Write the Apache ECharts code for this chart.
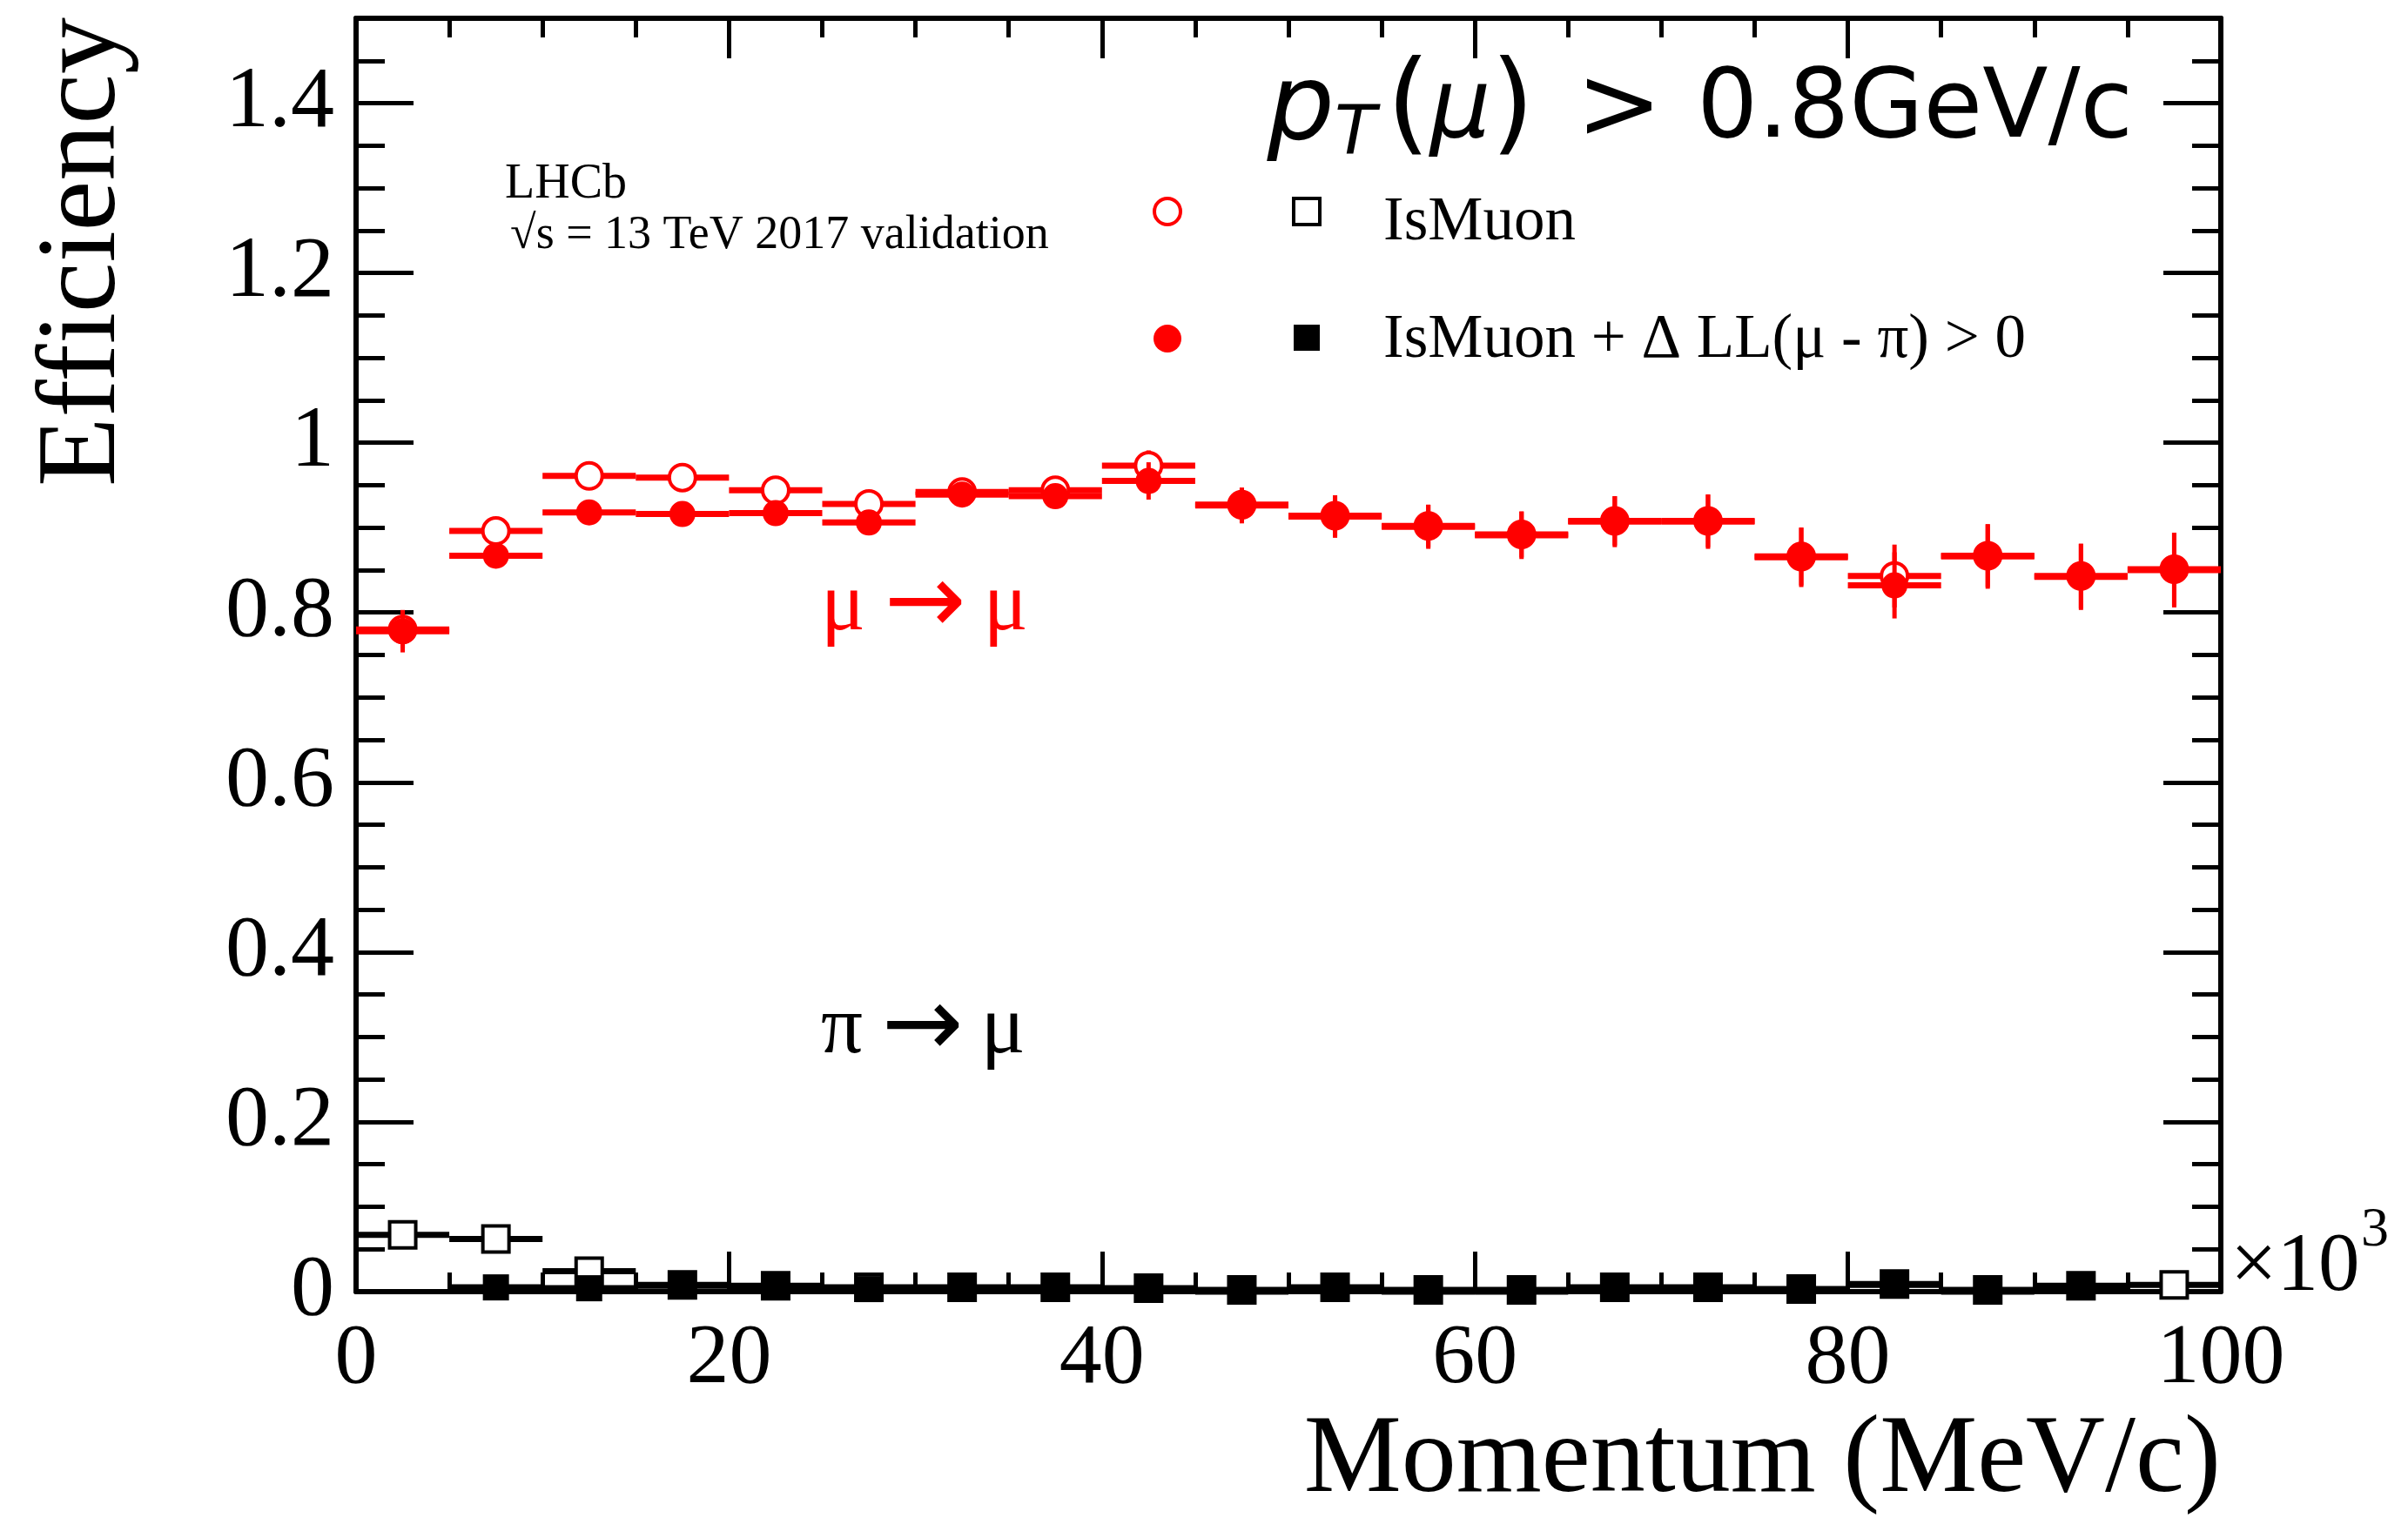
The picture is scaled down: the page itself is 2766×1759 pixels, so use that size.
<!DOCTYPE html>
<html>
<head>
<meta charset="utf-8">
<title>Muon ID efficiency vs momentum</title>
<script src="https://cdn.jsdelivr.net/npm/echarts@6/dist/echarts.min.js"></script>
<style>
  html, body { margin: 0; padding: 0; background: #fff; }
  #chart { width: 2766px; height: 1759px; }
</style>
</head>
<body>
<div id="chart"></div>
<script>
// momentum bins (x 10^3 MeV/c), 5 wide
const binCenters = [2.5, 7.5, 12.5, 17.5, 22.5, 27.5, 32.5, 37.5, 42.5, 47.5, 52.5, 57.5, 62.5, 67.5, 72.5, 77.5, 82.5, 87.5, 92.5, 97.5];
const binHalfWidth = 2.5;

// mu -> mu
const muIsMuon    = [0.780, 0.896, 0.961, 0.959, 0.944, 0.928, 0.942, 0.944, 0.973, 0.927, 0.914, 0.902, 0.892, 0.908, 0.908, 0.866, 0.843, 0.867, 0.843, 0.851];
const muIsMuonErr = [0.022, 0.010, 0.008, 0.008, 0.008, 0.009, 0.010, 0.011, 0.018, 0.020, 0.024, 0.025, 0.027, 0.029, 0.031, 0.034, 0.037, 0.037, 0.038, 0.043];
const muDLL       = [0.778, 0.867, 0.918, 0.916, 0.917, 0.906, 0.939, 0.937, 0.955, 0.926, 0.913, 0.901, 0.891, 0.907, 0.907, 0.865, 0.832, 0.866, 0.842, 0.850];
const muDLLErr    = [0.025, 0.012, 0.010, 0.010, 0.010, 0.010, 0.012, 0.013, 0.022, 0.021, 0.025, 0.026, 0.028, 0.030, 0.032, 0.035, 0.039, 0.038, 0.039, 0.044];

// pi -> mu
const piIsMuon    = [0.067, 0.062, 0.024, 0.008, 0.007, 0.005, 0.005, 0.005, 0.004, 0.002, 0.005, 0.002, 0.002, 0.005, 0.005, 0.003, 0.009, 0.002, 0.007, 0.008];
const piIsMuonErr = [0.005, 0.005, 0.004, 0.002, 0.002, 0.002, 0.002, 0.002, 0.002, 0.002, 0.002, 0.002, 0.002, 0.002, 0.002, 0.002, 0.003, 0.002, 0.003, 0.003];
const piDLL       = [null, 0.005, 0.004, 0.007, 0.006, 0.003, 0.004, 0.004, 0.003, 0.000, 0.004, 0.000, 0.000, 0.004, 0.004, 0.002, 0.008, 0.000, 0.006, null];
const piDLLErr    = [0, 0.002, 0.002, 0.002, 0.002, 0.002, 0.002, 0.002, 0.002, 0.002, 0.002, 0.002, 0.002, 0.002, 0.002, 0.002, 0.003, 0.002, 0.003, 0];

// axis ranges
const xMin = 0, xMax = 100, xMajor = 20;
const yMin = 0, yMax = 1.5, yMajor = 0.2, yMinor = 0.05;

const RED = '#ff0000';
const BLACK = '#000000';
const SERIF = '"Liberation Serif", "Times New Roman", serif';
const SANS = '"DejaVu Sans", sans-serif';

const chart = echarts.init(document.getElementById('chart'));

function points (values, errors) {
  return binCenters
    .map((x, i) => values[i] == null ? null : [x, values[i], errors[i]])
    .filter(d => d);
}

// horizontal bin-width bar + vertical error bar
function errorBars (values, errors, color, z) {
  return {
    type: 'custom',
    z: z,
    clip: false,
    silent: true,
    data: points(values, errors),
    renderItem: (params, api) => {
      const x = api.value(0), y = api.value(1), e = api.value(2);
      const l = api.coord([x - binHalfWidth, y]);
      const r = api.coord([x + binHalfWidth, y]);
      const lo = api.coord([x, y - e]);
      const hi = api.coord([x, y + e]);
      return {
        type: 'group',
        children: [
          { type: 'line', shape: { x1: l[0], y1: l[1], x2: r[0], y2: r[1] }, style: { stroke: color, lineWidth: 7 } },
          { type: 'line', shape: { x1: lo[0], y1: lo[1], x2: hi[0], y2: hi[1] }, style: { stroke: color, lineWidth: 5 } }
        ]
      };
    }
  };
}

function markers (values, errors, symbol, color, open, z) {
  return {
    type: 'scatter',
    z: z,
    clip: false,
    silent: true,
    symbol: symbol,
    symbolSize: 30,
    data: points(values, errors),
    itemStyle: open
      ? { color: '#fff', borderColor: color, borderWidth: 4, opacity: 1 }
      : { color: color, opacity: 1 }
  };
}

function xAxisOpt (position, showLabel) {
  return {
    type: 'value', position: position, min: xMin, max: xMax, interval: xMajor,
    axisLine: { show: true, onZero: false, lineStyle: { color: BLACK, width: 6 } },
    axisTick: { show: true, inside: true, length: 46, lineStyle: { color: BLACK, width: 5 } },
    minorTick: { show: true, splitNumber: 4, length: 22, lineStyle: { color: BLACK, width: 5 } },
    splitLine: { show: false },
    minorSplitLine: { show: false },
    axisLabel: {
      show: showLabel, margin: 78, verticalAlign: 'middle',
      color: BLACK, fontFamily: SERIF, fontSize: 98
    }
  };
}

function yAxisOpt (position, step, tickLen, showLine, showLabel) {
  return {
    type: 'value', position: position, min: yMin, max: yMax, interval: step,
    axisLine: { show: showLine, onZero: false, lineStyle: { color: BLACK, width: 6 } },
    axisTick: { show: true, inside: true, length: tickLen, lineStyle: { color: BLACK, width: 5 } },
    splitLine: { show: false },
    axisLabel: {
      show: showLabel, margin: 25, showMaxLabel: false,
      color: BLACK, fontFamily: SERIF, fontSize: 100,
      formatter: v => String(+v.toFixed(1))
    }
  };
}

// "a -> b" annotation, arrow in a wider font
function arrowText (x, y, from, to, color) {
  return {
    type: 'text', x: x, y: y,
    style: {
      text: '{a|' + from + '}{b|→}{a|' + to + '}',
      align: 'left', verticalAlign: 'middle', fill: color,
      rich: {
        a: { fontFamily: SERIF, fontSize: 95, verticalAlign: 'middle' },
        b: { fontFamily: SANS, fontSize: 112, verticalAlign: 'middle', padding: [0, 20, 0, 22] }
      }
    }
  };
}

const option = {
  backgroundColor: '#fff',
  animation: false,
  grid: { left: 409, right: 215, top: 21, bottom: 275, outerBoundsMode: 'none' },
  xAxis: [xAxisOpt('bottom', true), xAxisOpt('top', false)],
  yAxis: [
    yAxisOpt('left', yMajor, 66, true, true),
    yAxisOpt('left', yMinor, 33, false, false),
    yAxisOpt('right', yMajor, 66, true, false),
    yAxisOpt('right', yMinor, 33, false, false)
  ],
  series: [
    errorBars(piIsMuon, piIsMuonErr, BLACK, 2),
    markers(piIsMuon, piIsMuonErr, 'rect', BLACK, true, 3),
    errorBars(piDLL, piDLLErr, BLACK, 4),
    markers(piDLL, piDLLErr, 'rect', BLACK, false, 5),
    errorBars(muIsMuon, muIsMuonErr, RED, 6),
    markers(muIsMuon, muIsMuonErr, 'circle', RED, true, 7),
    errorBars(muDLL, muDLLErr, RED, 8),
    markers(muDLL, muDLLErr, 'circle', RED, false, 9)
  ],
  graphic: [
    // axis titles
    { type: 'text', x: 97, y: 20, rotation: Math.PI / 2,
      style: { text: 'Efficiency', align: 'right', verticalAlign: 'middle', fill: BLACK, font: '130px ' + SERIF } },
    { type: 'text', x: 2551, y: 1680,
      style: { text: 'Momentum (MeV/c)', align: 'right', verticalAlign: 'middle', fill: BLACK, font: '126px ' + SERIF } },
    { type: 'text', x: 2562, y: 1457,
      style: { text: '×10', align: 'left', verticalAlign: 'middle', fill: BLACK, font: '95px ' + SERIF } },
    { type: 'text', x: 2712, y: 1414,
      style: { text: '3', align: 'left', verticalAlign: 'middle', fill: BLACK, font: '64px ' + SERIF } },
    // pT cut
    { type: 'text', x: 2450, y: 128,
      style: {
        text: '{p|p}{t|T}{par|(}{i|μ}{par|)}{g|>}{n|0.8GeV/c}',
        align: 'right', verticalAlign: 'middle', fill: BLACK,
        rich: {
          p: { fontFamily: SANS, fontStyle: 'italic', fontSize: 122, verticalAlign: 'middle' },
          i: { fontFamily: SANS, fontStyle: 'italic', fontSize: 110, verticalAlign: 'middle' },
          t: { fontFamily: SANS, fontStyle: 'italic', fontSize: 78, verticalAlign: 'middle', padding: [58, 12, 0, 0] },
          par: { fontFamily: SANS, fontSize: 128, verticalAlign: 'middle' },
          g: { fontFamily: SANS, fontSize: 118, verticalAlign: 'middle', padding: [0, 40, 0, 48] },
          n: { fontFamily: SANS, fontSize: 110, verticalAlign: 'middle' }
        }
      } },
    // LHCb label
    { type: 'text', x: 580, y: 212,
      style: { text: 'LHCb', align: 'left', verticalAlign: 'middle', fill: BLACK, font: '56px ' + SERIF } },
    { type: 'text', x: 586, y: 271,
      style: { text: '√s = 13 TeV 2017 validation', align: 'left', verticalAlign: 'middle', fill: BLACK, font: '54px ' + SERIF } },
    // legend
    { type: 'circle', shape: { cx: 1341, cy: 243, r: 15 }, style: { fill: '#fff', stroke: RED, lineWidth: 4 } },
    { type: 'rect', shape: { x: 1486, y: 228, width: 30, height: 30 }, style: { fill: '#fff', stroke: BLACK, lineWidth: 4 } },
    { type: 'text', x: 1589, y: 256,
      style: { text: 'IsMuon', align: 'left', verticalAlign: 'middle', fill: BLACK, font: '71px ' + SERIF } },
    { type: 'circle', shape: { cx: 1341, cy: 389, r: 16 }, style: { fill: RED } },
    { type: 'rect', shape: { x: 1486, y: 373, width: 30, height: 30 }, style: { fill: BLACK } },
    { type: 'text', x: 1589, y: 391,
      style: { text: 'IsMuon + Δ LL(μ - π) > 0', align: 'left', verticalAlign: 'middle', fill: BLACK, font: '71px ' + SERIF } },
    // sample annotations
    arrowText(943, 698, 'μ', 'μ', RED),
    arrowText(943, 1184, 'π', 'μ', BLACK)
  ]
};

chart.setOption(option);
</script>
</body>
</html>
